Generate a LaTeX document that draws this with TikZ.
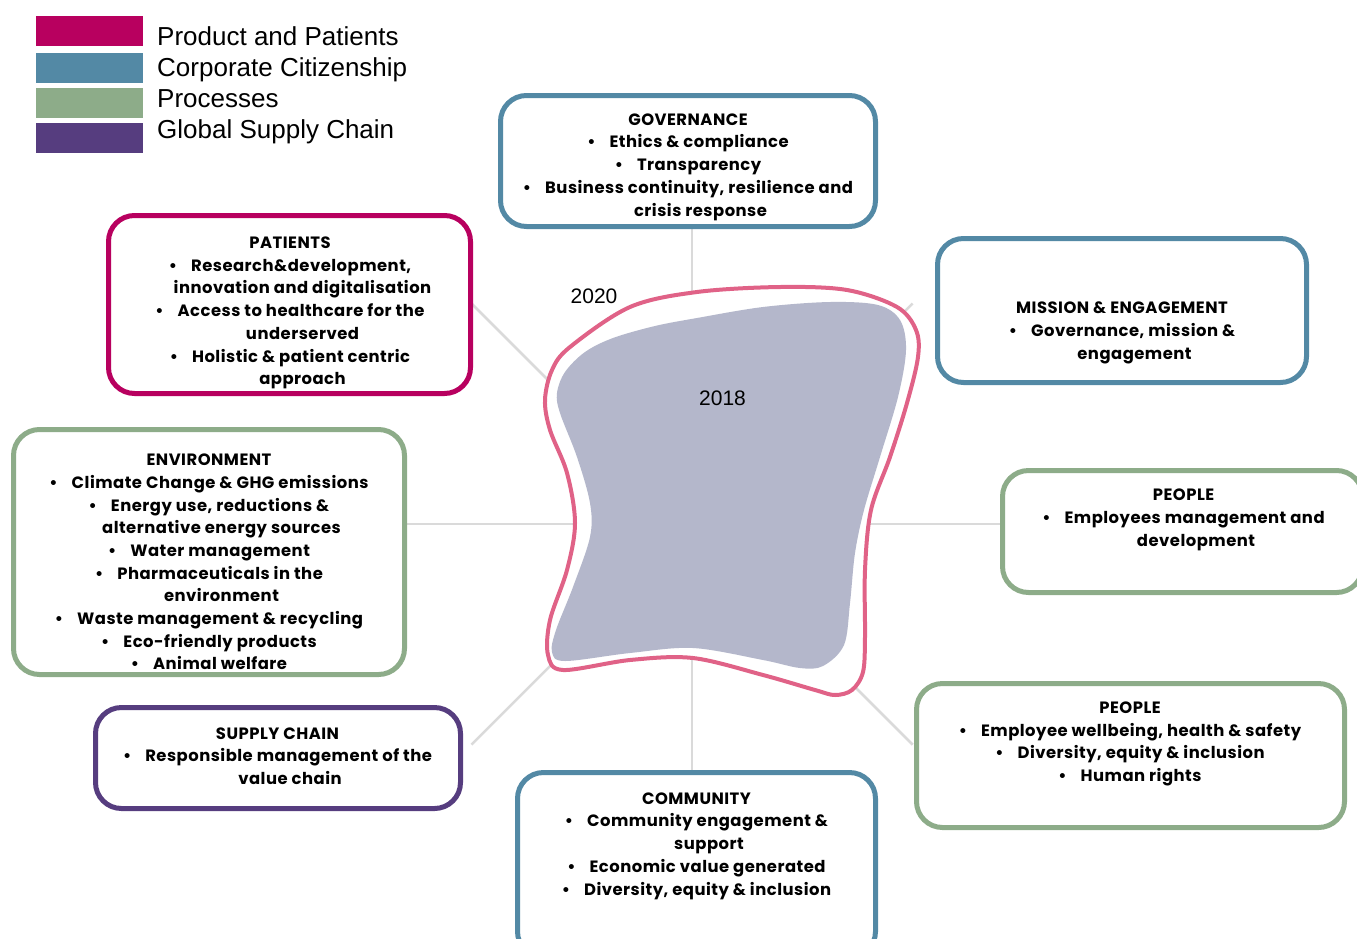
\documentclass[tikz,border=0pt]{standalone}
\usepackage{fontspec}
\setmainfont{Poppins}
\newfontfamily\arialfont{Liberation Sans}
\definecolor{cmag}{HTML}{B8005F}
\definecolor{cblue}{HTML}{5389A5}
\definecolor{cgreen}{HTML}{8DAC89}
\definecolor{cpurp}{HTML}{563D7F}
\definecolor{cold}{HTML}{B4B7CB}
\definecolor{cnew}{HTML}{E06287}
\definecolor{cspoke}{HTML}{DADADA}
\newcommand{\bp}{\textbullet\hspace{14pt}}
\newcommand{\cont}{\hspace*{25pt}}
\begin{document}
\begin{tikzpicture}[x=1pt, y=-1pt,
  box/.style = {draw, rounded corners=26pt, line width=5pt, fill=white, inner sep=0pt},
  txt/.style = {align=center, inner sep=0pt, font=\bfseries\fontsize{16.4}{22.7}\selectfont\addfontfeature{LetterSpace=3}},
  key/.style = {minimum width=107pt, minimum height=30pt, inner sep=0pt},
  keytxt/.style = {anchor=base west, inner sep=0pt, font=\arialfont\fontsize{26}{26}\selectfont},
  yr/.style = {anchor=base, inner sep=0pt, font=\arialfont\fontsize{21}{21}\selectfont},
  spoke/.style = {draw=cspoke, line width=2.5pt}]
\useasboundingbox (0,0) rectangle (1357,938);

\node[key, fill=cmag] (k1) at (89.5,31) {};
\node[key, fill=cblue] (k2) at (89.5,68) {};
\node[key, fill=cgreen] (k3) at (89.5,103) {};
\node[key, fill=cpurp] (k4) at (89.5,138) {};
\node[keytxt] (t1) at (157,45) {Product and Patients};
\node[keytxt] (t2) at (157,76) {Corporate Citizenship};
\node[keytxt] (t3) at (157,107) {Processes};
\node[keytxt] (t4) at (157,138) {Global Supply Chain};

\coordinate (c) at (692,524);
\foreach \a in {0,45,...,315}
  \draw[spoke] (c) -- ++(\a:312pt);

\node[box, draw=cblue, minimum width=375pt, minimum height=131pt] (gov) at (688,161) {};
\node[box, draw=cmag, minimum width=362pt, minimum height=178pt] (pat) at (289.5,304.5) {};
\node[box, draw=cblue, minimum width=369pt, minimum height=144pt] (mis) at (1122,310.5) {};
\node[box, draw=cgreen, minimum width=391pt, minimum height=245pt] (env) at (209,552) {};
\node[box, draw=cgreen, minimum width=360pt, minimum height=122pt] (pp1) at (1182.5,531.5) {};
\node[box, draw=cpurp, minimum width=365pt, minimum height=101pt] (sup) at (278,758) {};
\node[box, draw=cgreen, minimum width=428pt, minimum height=144pt] (pp2) at (1130.5,755.5) {};
\node[box, draw=cblue, minimum width=358pt, minimum height=185pt] (com) at (696.5,865) {};

\node[txt] (govt) at (688,167) {GOVERNANCE\\ \bp Ethics \& compliance\\ \bp Transparency\\
  \bp Business continuity, resilience and\\ \cont crisis response};
\node[txt] (patt) at (290,313) {PATIENTS\\ \bp Research\&development,\\ \cont innovation and digitalisation\\
  \bp Access to healthcare for the\\ \cont underserved\\ \bp Holistic \& patient centric\\ \cont approach};
\node[txt] (mist) at (1122,333) {MISSION \& ENGAGEMENT\\ \bp Governance, mission \&\\ \cont engagement};
\node[txt] (envt) at (209,562) {ENVIRONMENT\\ \bp Climate Change \& GHG emissions\\ \bp Energy use, reductions \&\\
  \cont alternative energy sources\\ \bp Water management\\ \bp Pharmaceuticals in the\\ \cont environment\\
  \bp Waste management \& recycling\\ \bp Eco-friendly products\\ \bp Animal welfare};
\node[txt] (pp1t) at (1183.5,520) {PEOPLE\\ \bp Employees management and\\ \cont development};
\node[txt] (supt) at (277.5,756) {SUPPLY CHAIN\\ \bp Responsible management of the\\ \cont value chain};
\node[txt] (pp2t) at (1130,744) {PEOPLE\\ \bp Employee wellbeing, health \& safety\\ \bp Diversity, equity \& inclusion\\ \bp Human rights};
\node[txt] (comt) at (696.5,846) {COMMUNITY\\ \bp Community engagement \&\\ \cont support\\ \bp Economic value generated\\ \bp Diversity, equity \& inclusion};

\draw[cnew, line width=4pt, fill=white] plot[smooth cycle, tension=0.55] coordinates {
  (545,400) (552,370) (570,347) (630,307) (697,292) (780,287) (847,290) (897,307) (916,330) (918,357)
  (907,403) (890,457) (871,510) (865,570) (865,637) (863,672) (852,690) (835,695) (815,690) (763,675) (693,658)
  (630,660) (563,670) (548,655) (550,620) (567,570) (575,523) (567,473) (550,430)};
\fill[cold] plot[smooth cycle, tension=0.55] coordinates {
  (557,393) (565,372) (585,352) (613,338) (655,326) (697,318) (763,307) (830,302) (878,305) (900,320)
  (906,350) (898,397) (880,457) (864,510) (855,553) (850,603) (844,645) (823,666) (800,668) (763,660)
  (693,648) (630,653) (565,661) (552,652) (556,630) (573,587) (590,537) (590,503) (577,457) (560,413)};
\node[yr] (y20) at (594,303) {2020};
\node[yr] (y18) at (722.5,405) {2018};
\end{tikzpicture}
\end{document}
